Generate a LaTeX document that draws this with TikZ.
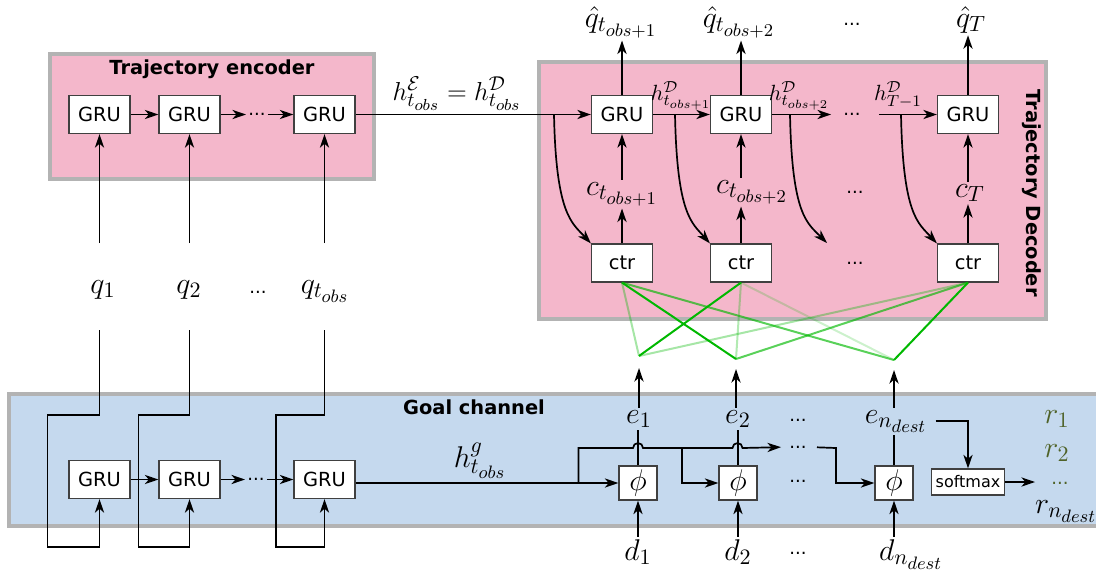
\RequirePackage{fix-cm}
\documentclass[tikz,border=0pt]{standalone}
\usepackage{fontspec}
\setsansfont{DejaVu Sans}
\usetikzlibrary{arrows.meta, positioning, calc}
\definecolor{encpink}{HTML}{F4B7CB}
\definecolor{goalblue}{HTML}{C5D9EE}
\definecolor{framegray}{HTML}{B3B3B3}
\definecolor{attgreen}{HTML}{00B800}
\definecolor{rolive}{HTML}{4F6228}
\DeclareMathSizes{15}{15}{11}{9}
\DeclareMathSizes{13}{13}{10}{8}
\DeclareMathSizes{11}{11}{8}{6}
\tikzset{
  block/.style={rectangle, draw=black!75, fill=white, line width=0.6pt,
    minimum width=30.5pt, minimum height=19pt, inner sep=0pt,
    font=\sffamily\fontsize{9.7}{11}\selectfont},
  phibox/.style={block, minimum width=19pt, minimum height=17pt,
    font=\fontsize{15}{18}\selectfont},
  panel/.style={draw=framegray, line width=2pt},
  paneltitle/.style={font=\sffamily\bfseries\fontsize{9.7}{11}\selectfont},
  mlbl/.style={inner sep=1pt, font=\fontsize{15}{18}\selectfont},
  hlbl/.style={inner sep=1pt, font=\fontsize{11}{13}\selectfont},
  dotsn/.style={inner sep=1pt, font=\sffamily\fontsize{9}{11}\selectfont},
  arrow/.style={-{Stealth[length=6.8pt, width=4.6pt, inset=2pt]}, line width=0.85pt},
  wire/.style={line width=0.85pt},
  att/.style={attgreen, line width=1pt, opacity=#1},
}

\begin{document}
\begin{tikzpicture}[x=0.5pt, y=-0.5pt]
\useasboundingbox (0,0) rectangle (1096,574);

% Panels
\draw[panel, fill=encpink] (49.5,53.5) rectangle (373.5,178.5);
\draw[panel, fill=encpink] (538.5,61.5) rectangle (1046,318.5);
\begin{scope}
  \clip (0,0) rectangle (1096,574);
  \draw[panel, fill=goalblue] (8.5,394) rectangle (1104,526);
\end{scope}

\node[paneltitle] (enctitle) at (212,69) {Trajectory encoder};
\node[paneltitle] (goaltitle) at (474,407) {Goal channel};
\node[paneltitle, rotate=-90] (dectitle) at (1032,193) {Trajectory Decoder};

% Trajectory encoder
\node[block] (eg1) at (99.5,114.5) {GRU};
\node[block] (eg2) at (189.5,114.5) {GRU};
\node[dotsn] (edots) at (257,114.5) {...};
\node[block] (eg3) at (324.5,114.5) {GRU};
\draw[arrow] (eg1) -- (eg2);
\draw[arrow] (eg2) -- (edots);
\draw[arrow] (edots) -- (eg3);

% Observed positions
\node[mlbl, anchor=base] (q1) at (103,293) {$q_1$};
\node[mlbl, anchor=base] (q2) at (189,293) {$q_2$};
\node[dotsn, anchor=base] (qdots) at (258,293) {...};
\node[mlbl, anchor=base] (q3) at (325,293) {$q_{t_{obs}}$};
\coordinate (qin1) at (99.5,243);
\coordinate (qin2) at (189.5,243);
\coordinate (qin3) at (324.5,243);
\coordinate (qout1) at (99.5,330);
\coordinate (qout2) at (189.5,330);
\coordinate (qout3) at (324.5,330);
\draw[arrow] (qin1) -- (eg1.south);
\draw[arrow] (qin2) -- (eg2.south);
\draw[arrow] (qin3) -- (eg3.south);

% Goal channel encoder
\node[block] (gg1) at (99.5,479.5) {GRU};
\node[block] (gg2) at (189.5,479.5) {GRU};
\node[dotsn] (gdots) at (256,479.5) {...};
\node[block] (gg3) at (324.5,479.5) {GRU};
\draw[arrow] (gg1) -- (gg2);
\draw[arrow] (gg2) -- (gdots);
\draw[arrow] (gdots) -- (gg3);
\draw[arrow] (qout1) -- (99.5,415) -- (47.5,415) -- (47.5,547) -| (gg1.south);
\draw[arrow] (qout2) -- (189.5,415) -- (138.5,415) -- (138.5,547) -| (gg2.south);
\draw[arrow] (qout3) -- (324.5,415) -- (276,415) -- (276,547) -| (gg3.south);

% Goal scoring
\node[phibox] (phi1) at (638,483) {$\phi$};
\node[phibox] (phi2) at (738,483) {$\phi$};
\node[dotsn] (phidots) at (798,481) {...};
\node[phibox] (phi3) at (894,483) {$\phi$};
\node[mlbl, anchor=base] (hg) at (480,467) {$h^g_{t_{obs}}$};
\draw[arrow] (gg3.east |- phi1.west) -- (phi1.west);

\coordinate (split1) at (578.5,483);
\coordinate (split2) at (682,448);
\coordinate (turn3) at (836,448);
\node[dotsn] (tdots) at (798,447) {...};
\draw[wire] (split1) |- (633,448) arc[start angle=180, end angle=360, radius=5] -- (split2);
\draw[arrow] (split2) |- (phi2.west);
\draw[arrow, shorten >=3pt] (split2) -- (732.5,448) arc[start angle=180, end angle=360, radius=5] -- (tdots.west);
\draw[arrow, shorten <=4pt] (tdots.east) -- (turn3) |- (phi3.west);

\node[mlbl, anchor=base] (e1) at (639,423) {$e_1$};
\node[mlbl, anchor=base] (e2) at (738,423) {$e_2$};
\node[dotsn, anchor=base] (edotsr) at (798,421) {...};
\node[mlbl, anchor=base] (en) at (896,423) {$e_{n_{dest}}$};
\draw[wire] (phi1.north) -- (phi1.north |- e1.south);
\draw[wire] (phi2.north) -- (phi2.north |- e2.south);
\draw[wire] (phi3.north) -- (phi3.north |- en.south);

\node[mlbl, anchor=base] (d1) at (638,560) {$d_1$};
\node[mlbl, anchor=base] (d2) at (738,560) {$d_2$};
\node[dotsn, anchor=base] (ddots) at (798,554) {...};
\node[mlbl, anchor=base] (dn) at (911,560) {$d_{n_{dest}}$};
\draw[arrow] (d1.north -| phi1) -- (phi1.south);
\draw[arrow] (d2.north -| phi2) -- (phi2.south);
\draw[arrow] (dn.north -| phi3) -- (phi3.south);

% Softmax over destinations
\node[block, minimum width=36.5pt, minimum height=13pt,
  font=\sffamily\fontsize{8}{10}\selectfont] (softmax) at (968,482) {softmax};
\draw[arrow, shorten <=3pt] (en.east) -| (softmax.north);
\node[mlbl, anchor=base, text=rolive] (r1) at (1057,423) {$r_1$};
\node[mlbl, anchor=base, text=rolive] (r2) at (1057,457) {$r_2$};
\node[dotsn, anchor=base, text=rolive] (rdots) at (1060,484) {...};
\node[mlbl, anchor=base] (rn) at (1066,513) {$r_{n_{dest}}$};
\draw[arrow, shorten >=7pt] (softmax.east) -- (softmax.east -| rdots.west);

% Trajectory decoder
\node[block] (dg1) at (622,114.5) {GRU};
\node[block] (dg2) at (741,114.5) {GRU};
\node[dotsn] (hdots) at (852,114.5) {...};
\node[block] (dg3) at (968,114.5) {GRU};
\draw[arrow] (eg3) -- (dg1);
\draw[arrow] (dg1) -- (dg2);
\draw[arrow, shorten >=5pt] (dg2) -- (hdots);
\draw[arrow, shorten <=8pt] (hdots) -- (dg3);
\node[mlbl, anchor=base, font=\fontsize{13}{16}\selectfont] (hE) at (457,100) {$h^{\mathcal{E}}_{t_{obs}} = h^{\mathcal{D}}_{t_{obs}}$};
\node[hlbl, anchor=base] (hD1) at (681,100) {$h^{\mathcal{D}}_{t_{obs+1}}$};
\node[hlbl, anchor=base] (hD2) at (799,100) {$h^{\mathcal{D}}_{t_{obs+2}}$};
\node[hlbl, anchor=base] (hDT) at (898,100) {$h^{\mathcal{D}}_{T-1}$};

\node[mlbl, anchor=base] (qh1) at (621,27) {$\hat{q}_{t_{obs+1}}$};
\node[mlbl, anchor=base] (qh2) at (739,27) {$\hat{q}_{t_{obs+2}}$};
\node[dotsn, anchor=base] (qhdots) at (852,25) {...};
\node[mlbl, anchor=base] (qh3) at (971,27) {$\hat{q}_T$};
\draw[arrow] (dg1.north) -- (dg1.north |- qh1.south);
\draw[arrow] (dg2.north) -- (dg2.north |- qh2.south);
\draw[arrow] (dg3.north) -- (dg3.north |- qh3.south);

\node[block] (ctr1) at (622,263) {ctr};
\node[block] (ctr2) at (741,263) {ctr};
\node[dotsn] (ctrdots) at (855,263) {...};
\node[block] (ctr3) at (968,263) {ctr};
\node[mlbl, anchor=base] (cl1) at (622,195) {$c_{t_{obs+1}}$};
\node[mlbl, anchor=base] (cl2) at (752,193) {$c_{t_{obs+2}}$};
\node[dotsn, anchor=base] (cdots) at (855,193) {...};
\node[mlbl, anchor=base] (cl3) at (970,197) {$c_T$};
\draw[arrow] (ctr1.north) -- (ctr1.north |- cl1.south);
\draw[arrow] (ctr2.north) -- (ctr2.north |- cl2.south);
\draw[arrow] (ctr3.north) -- (ctr3.north |- cl3.south);
\draw[arrow] (cl1.north -| dg1) -- (dg1.south);
\draw[arrow] (cl2.north -| dg2) -- (dg2.south);
\draw[arrow] (cl3.north -| dg3) -- (dg3.south);

% Hidden states into the context modules
\coordinate (br1) at (554,114.5);
\coordinate (br2) at (675,114.5);
\coordinate (br3) at (790,114.5);
\coordinate (br4) at (901,114.5);
\coordinate (ctrfree) at (827,243);
\draw[arrow] (br1) .. controls (556,215) and (572,223) .. (ctr1.north west);
\draw[arrow] (br2) .. controls (677,215) and (692,223) .. (ctr2.north west);
\draw[arrow] (br3) .. controls (792,215) and (807,223) .. (ctrfree);
\draw[arrow] (br4) .. controls (903,215) and (918,223) .. (ctr3.north west);

% Attention over goal embeddings
\coordinate (g1) at (639,356);
\coordinate (g2) at (736,359);
\coordinate (g3) at (894,360);
\draw[att=0.35] (ctr1.south) -- (g1);
\draw[att=1] (ctr1.south) -- (g2);
\draw[att=0.65] (ctr1.south) -- (g3);
\draw[att=1] (ctr2.south) -- (g1);
\draw[att=0.3] (ctr2.south) -- (g2);
\draw[att=0.2] (ctr2.south) -- (g3);
\draw[att=0.35] (ctr3.south) -- (g1);
\draw[att=0.65] (ctr3.south) -- (g2);
\draw[att=1] (ctr3.south) -- (g3);
\draw[arrow] (e1.north -| g1) -- ([yshift=-6pt]g1);
\draw[arrow] (e2.north -| g2) -- ([yshift=-5pt]g2);
\draw[arrow] (en.north -| g3) -- ([yshift=-5pt]g3);
\end{tikzpicture}
\end{document}
